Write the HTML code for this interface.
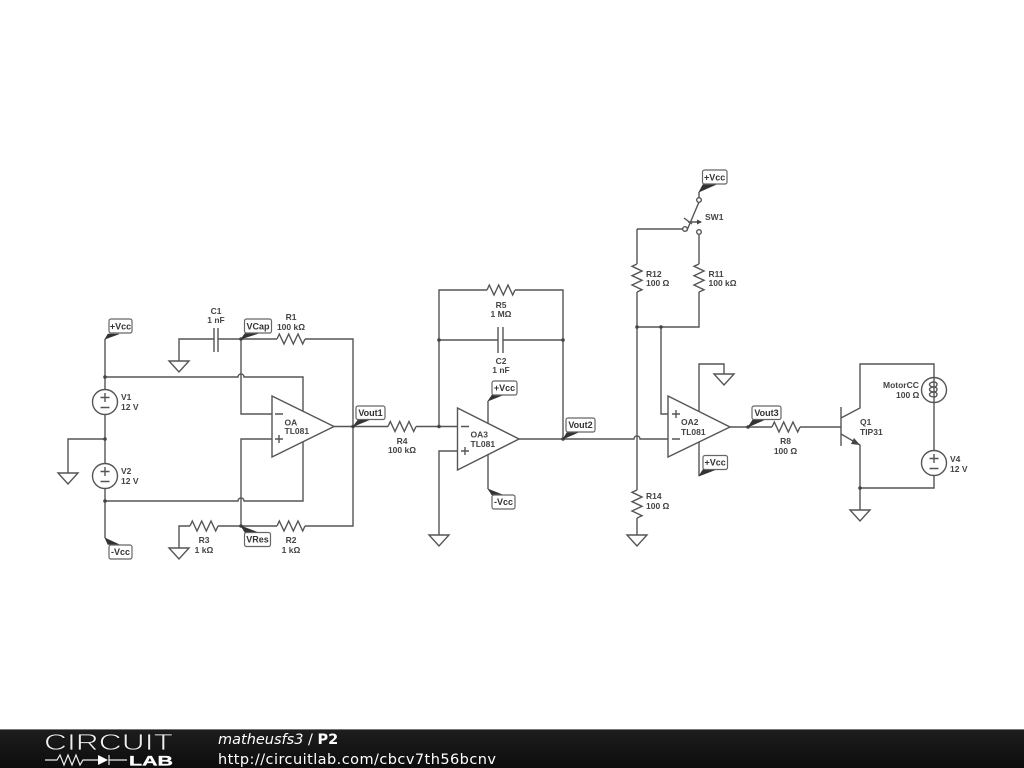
<!DOCTYPE html>
<html><head><meta charset="utf-8"><style>
html,body{margin:0;padding:0;background:#fff;width:1024px;height:768px;overflow:hidden}
svg{display:block}
.w{fill:none;stroke:#555;stroke-width:1.4}
.o{fill:#fff;stroke:#555;stroke-width:1.4}
.t{font:bold 8.5px "Liberation Sans",sans-serif;fill:#444}
.m{text-anchor:middle}
.l{font:bold 9px "Liberation Sans",sans-serif;fill:#333;text-anchor:middle}
.b{fill:#fff;stroke:#666;stroke-width:1.2}
.f{fill:#333;stroke:#333;stroke-width:.6}
.j{fill:#444}
</style></head><body>
<svg width="1024" height="768" viewBox="0 0 1024 768" xmlns="http://www.w3.org/2000/svg">
<defs>
<path id="r" class="w" d="M0 0L2.3 -5L7 5L11.7 -5L16.3 5L21 -5L25.7 5L28 0"/>
<path id="rv" class="w" d="M0 0L-5 2.3L5 7L-5 11.7L5 16.3L-5 21L5 25.7L0 28"/>
<path id="g" class="w" d="M-10 0H10L0 11Z"/>
<g id="v"><circle r="12.5" class="o"/><path class="w" d="M-4.5 -4.500H4.500M0 -9V0M-4.500 5.500H4.500"/></g>
<linearGradient id="bar" x1="0" y1="0" x2="0" y2="1"><stop offset="0" stop-color="#1e1e1e"/><stop offset="1" stop-color="#0c0c0c"/></linearGradient>
</defs>

<!-- Left section wires -->
<path class="w" d="M105 339V389.5M105 414.5V463.5M105 488.5V538"/>
<path class="w" d="M105 439H68V473"/>
<path class="w" d="M179 361V339H214M218 339H277M305 339H353V526H305M277 526H218M190 526H179V548"/>
<path class="w" d="M105 377H238C238 373 244 373 244 377H303V411"/>
<path class="w" d="M105 501H238C238 497 244 497 244 501H303V442"/>
<path class="w" d="M241 339V414H272M272 439H241V526"/>
<path class="w" d="M214 328V352M218 328V352"/>
<path class="w" d="M334 426.5H388M416 426.5H457"/>
<use href="#r" x="277" y="339"/><use href="#r" x="277" y="526"/><use href="#r" x="190" y="526"/><use href="#r" x="388" y="426.5"/>
<use href="#v" x="105" y="402"/><use href="#v" x="105" y="476"/>
<use href="#g" x="68" y="473"/><use href="#g" x="179" y="361"/><use href="#g" x="179" y="548"/>
<path class="o" d="M272 396L334 426.5L272 457Z"/>
<path class="w" d="M275 414H283M275 439H283M279 435V443"/>

<!-- Middle section -->
<path class="w" d="M439 535V451H457M439 426.5V290H487M515 290H563V439M439 340H498M503 340H563"/>
<path class="w" d="M498 327V353M503 327V353"/>
<use href="#r" x="487" y="290"/>
<path class="w" d="M488 430V401M488 450V489"/>
<use href="#g" x="439" y="535"/>
<path class="o" d="M457.500 408L519 439L457.500 470Z"/>
<path class="w" d="M461 426.500H469M461 451H469M465 447V455"/>
<path class="w" d="M519 439H634C634 435 640 435 640 439H668"/>

<!-- R12/R14/R11 -->
<path class="w" d="M637 229H683M637 229V264M637 292V490M637 518V535M637 327H699V292M661 327V414H668M699 264V235"/>
<use href="#rv" x="637" y="264"/><use href="#rv" x="699" y="264"/><use href="#rv" x="637" y="490"/>
<use href="#g" x="637" y="535"/>
<!-- Switch -->
<circle cx="685" cy="229" r="2.300" class="o"/><circle cx="699" cy="232" r="2.300" class="o"/><circle cx="699" cy="200" r="2.300" class="o"/>
<path class="w" d="M699 192V197.500M686.700 231L699 202"/>
<path class="w" d="M684 218L692 224M688 222H701"/>
<path class="j" d="M702 222L697 219.500V224.500Z"/>

<!-- OA2 -->
<path class="w" d="M699 415V364H724V374M699 440V476"/>
<use href="#g" x="724" y="374"/>
<path class="o" d="M668 396L730 427L668 457Z"/>
<path class="w" d="M672 414H680M676 410V418M672 439H680"/>
<path class="w" d="M730 427H772M800 427H841"/>
<use href="#r" x="772" y="427"/>

<!-- BJT -->
<path class="w" d="M841 407V446M841 418L860 408V364H934V377.500M934 402.500V450.500M934 475.500V488H860M841 434L860 445V510"/>
<path class="j" d="M860 445L851 444L854 438Z"/>
<use href="#g" x="860" y="510"/>
<use href="#v" x="934" y="463"/>
<circle cx="934" cy="390" r="12.500" class="o"/>
<path class="w" d="M934 378V402M934 382C928 382 928 387 934 387C928 387 928 392 934 392C928 392 928 397 934 397M934 382C938 382 938 387 934 387M934 387C938 387 938 392 934 392M934 392C938 392 938 397 934 397"/>

<!-- Junctions -->
<g class="j">
<circle cx="105" cy="377" r="1.800"/><circle cx="105" cy="439" r="1.800"/><circle cx="105" cy="501" r="1.800"/>
<circle cx="241" cy="339" r="1.800"/><circle cx="241" cy="526" r="1.800"/><circle cx="353" cy="426.500" r="1.800"/>
<circle cx="439" cy="426.500" r="1.800"/><circle cx="439" cy="340" r="1.800"/><circle cx="563" cy="340" r="1.800"/><circle cx="563" cy="439" r="1.800"/>
<circle cx="637" cy="327" r="1.800"/><circle cx="661" cy="327" r="1.800"/><circle cx="748" cy="427" r="1.800"/><circle cx="860" cy="488" r="1.800"/>
</g>

<!-- Flags -->
<g class="f">
<path d="M105 339L108 334H119Z"/>
<path d="M105 538L108 544.500H119Z"/>
<path d="M241 339L245 333.500H258Z"/>
<path d="M241 526L245 532.500H258Z"/>
<path d="M353 426.500L358 420H369Z"/>
<path d="M488 401L492 395H503Z"/>
<path d="M488 489L492 495H503Z"/>
<path d="M563 439L567 432.500H578Z"/>
<path d="M748 427L753 419.500H765Z"/>
<path d="M699 192L703 184.500H716Z"/>
<path d="M699 476L703 469.500H716Z"/>
</g>

<!-- Boxes + labels -->
<rect class="b" x="109" y="319" width="23" height="14" rx="2"/><text class="l" x="120.500" y="329.500">+Vcc</text>
<rect class="b" x="109" y="545" width="23" height="14" rx="2"/><text class="l" x="120.500" y="555">-Vcc</text>
<rect class="b" x="244.500" y="319" width="27" height="14" rx="2"/><text class="l" x="258" y="329.500">VCap</text>
<rect class="b" x="244.500" y="532.500" width="26" height="14" rx="2"/><text class="l" x="257.500" y="542.500">VRes</text>
<rect class="b" x="356" y="406" width="29" height="13.500" rx="2"/><text class="l" x="370.500" y="416">Vout1</text>
<rect class="b" x="492" y="381" width="25" height="14" rx="2"/><text class="l" x="504.500" y="391">+Vcc</text>
<rect class="b" x="492" y="495" width="23" height="14" rx="2"/><text class="l" x="503.500" y="505">-Vcc</text>
<rect class="b" x="566" y="418" width="29" height="14" rx="2"/><text class="l" x="580.500" y="428">Vout2</text>
<rect class="b" x="752" y="406" width="29" height="13.500" rx="2"/><text class="l" x="766.500" y="416">Vout3</text>
<rect class="b" x="702.500" y="170" width="24.500" height="14" rx="2"/><text class="l" x="714.700" y="180.500">+Vcc</text>
<rect class="b" x="703" y="455.500" width="24.500" height="14" rx="2"/><text class="l" x="715.200" y="465.500">+Vcc</text>

<!-- Component text -->
<g class="t">
<text x="121" y="400">V1</text><text x="121" y="410">12 V</text>
<text x="121" y="474">V2</text><text x="121" y="484">12 V</text>
<text class="m" x="216" y="314">C1</text><text class="m" x="216" y="323">1 nF</text>
<text class="m" x="291" y="320">R1</text><text class="m" x="291" y="330">100 kΩ</text>
<text class="m" x="204" y="543">R3</text><text class="m" x="204" y="553">1 kΩ</text>
<text class="m" x="291" y="543">R2</text><text class="m" x="291" y="553">1 kΩ</text>
<text x="284.500" y="425.500">OA</text><text x="284.500" y="434">TL081</text>
<text class="m" x="402" y="444">R4</text><text class="m" x="402" y="453">100 kΩ</text>
<text class="m" x="501" y="308">R5</text><text class="m" x="501" y="317">1 MΩ</text>
<text class="m" x="501" y="364">C2</text><text class="m" x="501" y="373">1 nF</text>
<text x="470.500" y="437.500">OA3</text><text x="470.500" y="447">TL081</text>
<text x="705" y="220">SW1</text>
<text x="646" y="277">R12</text><text x="646" y="286">100 Ω</text>
<text x="708.500" y="277">R11</text><text x="708.500" y="286">100 kΩ</text>
<text x="646" y="499">R14</text><text x="646" y="509">100 Ω</text>
<text x="681" y="425">OA2</text><text x="681" y="435">TL081</text>
<text class="m" x="785.500" y="444">R8</text><text class="m" x="785.500" y="454">100 Ω</text>
<text x="860" y="425">Q1</text><text x="860" y="435">TIP31</text>
<text x="883" y="388">MotorCC</text><text x="896" y="398">100 Ω</text>
<text x="950" y="462">V4</text><text x="950" y="472">12 V</text>
</g>

<!-- Footer -->
<rect x="0" y="729" width="1024" height="39" fill="url(#bar)"/>
<rect x="0" y="729" width="1024" height="1" fill="#777"/>
<text x="44" y="750" font-family="Liberation Sans,sans-serif" font-size="23.500" fill="#eee" textLength="129" lengthAdjust="spacingAndGlyphs" stroke="#111" stroke-width="0.7">CIRCUIT</text>
<path d="M45 760H57L60 755L64 765L68 755L72 765L76 755L80 765L83 760H98M109 760H127M109 755V765" fill="none" stroke="#eee" stroke-width="1.2"/>
<path d="M98 755V765L108 760Z" fill="#fff"/>
<text x="129" y="765.500" font-family="Liberation Sans,sans-serif" font-size="14" font-weight="bold" fill="#fff" stroke="#fff" stroke-width=".3" textLength="44" lengthAdjust="spacingAndGlyphs">LAB</text>
<text x="218" y="744" font-family="DejaVu Sans,sans-serif" font-size="14.500" fill="#fff"><tspan font-style="italic">matheusfs3</tspan> / <tspan font-weight="bold">P2</tspan></text>
<text x="218" y="764" font-family="DejaVu Sans,sans-serif" font-size="14.500" fill="#fff" textLength="278">http://circuitlab.com/cbcv7th56bcnv</text>
</svg>
</body></html>
